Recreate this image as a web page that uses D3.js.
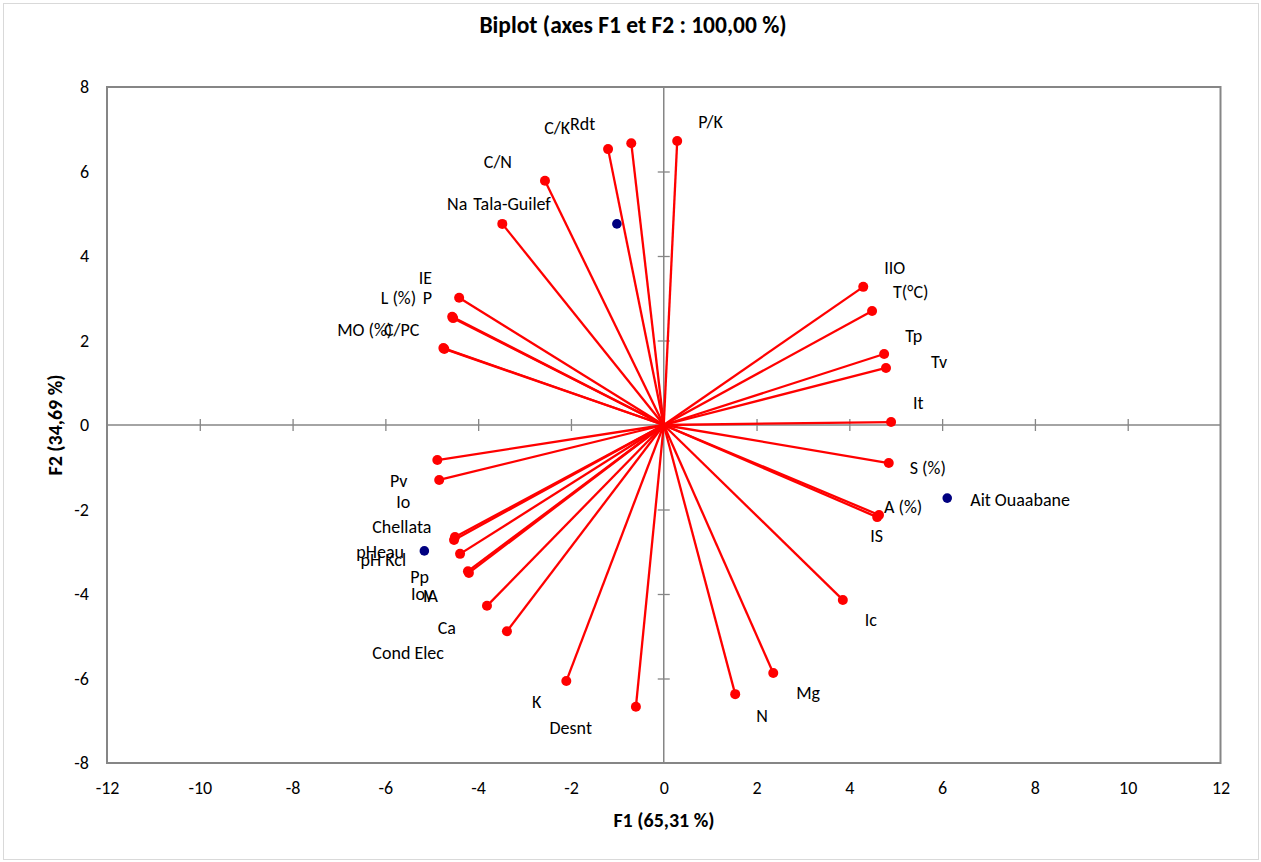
<!DOCTYPE html>
<html>
<head>
<meta charset="utf-8">
<script src="https://cdn.jsdelivr.net/npm/d3@7"></script>
<style>
  html, body { margin: 0; padding: 0; background: #fff; }
  svg { display: block; }
  text { font-family: Calibri, Carlito, Lato, "Open Sans", sans-serif; fill: #000; }
</style>
</head>
<body>
<svg id="chart" width="1261" height="862"></svg>
<script>
// Variables (active vectors) : coordinates on F1 and F2
const varNames = ["P/K", "Rdt", "C/K", "C/N", "Na", "IE", "L (%)", "P", "MO (%)", "C/PC",
  "IIO", "T(°C)", "Tp", "Tv", "It", "S (%)", "A (%)", "IS", "Ic", "Mg", "N",
  "Desnt", "K", "Cond Elec", "Ca", "Pv", "Io", "pHeau", "pH Kcl", "Pp", "Iov", "IA"];
const varF1 = [0.29, -0.70, -1.20, -2.56, -3.48, -4.41, -4.56, -4.54, -4.73, -4.75,
  4.30, 4.49, 4.75, 4.79, 4.90, 4.85, 4.64, 4.60, 3.86, 2.36, 1.54,
  -0.60, -2.10, -3.38, -3.81, -4.88, -4.84, -4.50, -4.52, -4.39, -4.22, -4.20];
const varF2 = [6.72, 6.67, 6.53, 5.78, 4.76, 3.01, 2.56, 2.53, 1.80, 1.82,
  3.27, 2.70, 1.68, 1.35, 0.07, -0.90, -2.13, -2.18, -4.14, -5.87, -6.37,
  -6.67, -6.06, -4.88, -4.28, -0.83, -1.30, -2.65, -2.72, -3.05, -3.46, -3.50];

// Observations (sites)
const obsNames = ["Tala-Guilef", "Ait Ouaabane", "Chellata"];
const obsF1 = [-1.01, 6.11, -5.16];
const obsF2 = [4.76, -1.73, -2.98];

// Axis ticks
const xTicks = [-12, -10, -8, -6, -4, -2, 0, 2, 4, 6, 8, 10, 12];
const yTicks = [-8, -6, -4, -2, 0, 2, 4, 6, 8];

const titleText = "Biplot (axes F1 et F2 : 100,00 %)";
const xTitle = "F1 (65,31 %)";
const yTitle = "F2 (34,69 %)";

// Label placement: pixel offset of the label from its point, and text anchor
const labelPlacement = {
  "P/K": [21, -19, "start"], "Rdt": [-36, -19, "end"], "C/K": [-38, -21, "end"],
  "C/N": [-33, -19, "end"], "Na": [-35, -20, "end"], "IE": [-27, -20, "end"],
  "L (%)": [-36, -19, "end"], "P": [-21, -20, "end"], "MO (%)": [-52, -19, "end"],
  "C/PC": [-24, -18, "end"], "IIO": [21, -19, "start"], "T(°C)": [21, -19, "start"],
  "Tp": [21, -18, "start"], "Tv": [45, -6, "start"], "It": [22, -19, "start"],
  "S (%)": [21, 5, "start"], "A (%)": [5, -8, "start"], "IS": [-7, 19, "start"],
  "Ic": [22, 20, "start"], "Mg": [23, 20, "start"], "N": [21, 22, "start"],
  "Desnt": [-44, 21, "end"], "K": [-25, 21, "end"], "Cond Elec": [-63, 22, "end"],
  "Ca": [-31, 22, "end"], "Pv": [-30, 21, "end"], "Io": [-29, 22, "end"],
  "pHeau": [-51, 15, "end"], "pH Kcl": [-48, 20, "end"], "Pp": [-31, 23, "end"],
  "Iov": [-35, 23, "end"], "IA": [-31, 23, "end"],
  "Tala-Guilef": [-66, -20, "end"], "Ait Ouaabane": [23, 2, "start"], "Chellata": [7, -24, "end"]
};

const vars = varNames.map((n, i) => ({ name: n, f1: varF1[i], f2: varF2[i] }));
const obs = obsNames.map((n, i) => ({ name: n, f1: obsF1[i], f2: obsF2[i] }));

const svg = d3.select("#chart");
const W = 1261, H = 862;
const plot = { left: 107, right: 1220.5, top: 87, bottom: 763 };

const x = d3.scaleLinear().domain([-12, 12]).range([plot.left, plot.right]);
const y = d3.scaleLinear().domain([-8, 8]).range([plot.bottom, plot.top]);

const gray = "#868686";
const fs = 18;

// Outer chart frame
svg.append("rect")
  .attr("x", 3.5).attr("y", 3.5).attr("width", W - 6).attr("height", H - 6)
  .attr("fill", "#fff").attr("stroke", "#d9d9d9").attr("stroke-width", 1);

// Title
svg.append("text")
  .attr("x", 633).attr("y", 33)
  .attr("text-anchor", "middle")
  .attr("font-size", 23.5).attr("font-weight", "bold")
  .text(titleText);

// Tick labels along the plot frame
const xAxis = svg.append("g")
  .attr("transform", `translate(0,${plot.bottom})`)
  .call(d3.axisBottom(x).tickValues(xTicks).tickSize(0).tickPadding(18).tickFormat(d3.format("d")));
const yAxis = svg.append("g")
  .attr("transform", `translate(${plot.left},0)`)
  .call(d3.axisLeft(y).tickValues(yTicks).tickSize(0).tickPadding(18).tickFormat(d3.format("d")));
[xAxis, yAxis].forEach(g => {
  g.select(".domain").remove();
  g.selectAll("text").attr("font-size", fs).attr("font-family", null).attr("fill", "#000");
});
xAxis.selectAll("text").text(d => d < 0 ? "-" + Math.abs(d) : d);
yAxis.selectAll("text").text(d => d < 0 ? "-" + Math.abs(d) : d);

// Zero axes with crossing ticks
const zx = svg.append("g")
  .attr("transform", `translate(0,${y(0) - 6})`)
  .call(d3.axisBottom(x).tickValues(xTicks.filter(v => v !== 0 && Math.abs(v) !== 12)).tickSize(12).tickFormat(""));
zx.select(".domain").remove();
zx.selectAll("line").attr("stroke", gray).attr("stroke-width", 1.3);
const zy = svg.append("g")
  .attr("transform", `translate(${x(0) - 6},0)`)
  .call(d3.axisRight(y).tickValues(yTicks.filter(v => v !== 0 && Math.abs(v) !== 8)).tickSize(12).tickFormat(""));
zy.select(".domain").remove();
zy.selectAll("line").attr("stroke", gray).attr("stroke-width", 1.3);

svg.append("line")
  .attr("x1", plot.left).attr("x2", plot.right).attr("y1", y(0)).attr("y2", y(0))
  .attr("stroke", gray).attr("stroke-width", 1.5);
svg.append("line")
  .attr("x1", x(0)).attr("x2", x(0)).attr("y1", plot.top).attr("y2", plot.bottom)
  .attr("stroke", gray).attr("stroke-width", 1.5);

// Plot frame
svg.append("rect")
  .attr("x", plot.left).attr("y", plot.top)
  .attr("width", plot.right - plot.left).attr("height", plot.bottom - plot.top)
  .attr("fill", "none").attr("stroke", gray).attr("stroke-width", 2);

// Axis titles
svg.append("text")
  .attr("x", 664).attr("y", 827)
  .attr("text-anchor", "middle")
  .attr("font-size", 20).attr("font-weight", "bold")
  .text(xTitle);
svg.append("text")
  .attr("transform", `translate(62,${y(0)}) rotate(-90)`)
  .attr("text-anchor", "middle")
  .attr("font-size", 20).attr("font-weight", "bold")
  .text(yTitle);

// Variable vectors
svg.append("g").selectAll("line")
  .data(vars).join("line")
  .attr("x1", x(0)).attr("y1", y(0))
  .attr("x2", d => x(d.f1)).attr("y2", d => y(d.f2))
  .attr("stroke", "#ff0000").attr("stroke-width", 2.3);
svg.append("g").selectAll("circle")
  .data(vars).join("circle")
  .attr("cx", d => x(d.f1)).attr("cy", d => y(d.f2))
  .attr("r", 5).attr("fill", "#ff0000");

// Observations
svg.append("g").selectAll("circle")
  .data(obs).join("circle")
  .attr("cx", d => x(d.f1)).attr("cy", d => y(d.f2))
  .attr("r", 4.8).attr("fill", "#000080");

// Labels
const labelled = vars.concat(obs);
svg.append("g").selectAll("text")
  .data(labelled).join("text")
  .attr("x", d => x(d.f1) + labelPlacement[d.name][0])
  .attr("y", d => y(d.f2) + labelPlacement[d.name][1])
  .attr("dy", "0.35em")
  .attr("text-anchor", d => labelPlacement[d.name][2])
  .attr("font-size", fs)
  .text(d => d.name);
</script>
</body>
</html>
